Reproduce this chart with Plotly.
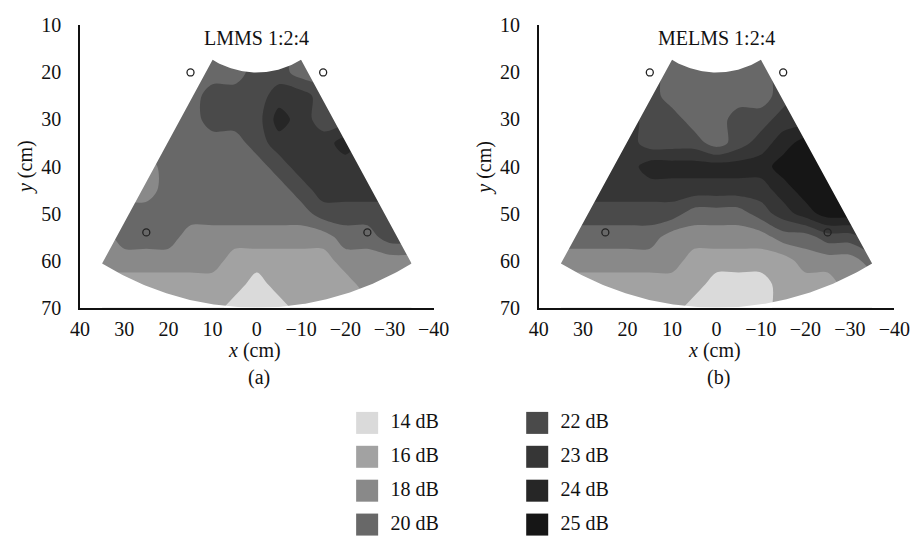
import math
import plotly.graph_objects as go

# ---------------- data ----------------
LEVELS = [14, 16, 18, 20, 22, 23, 24, 25]
GRAYS = ["#dadada", "#a2a2a2", "#898989", "#686868", "#4a4a4a", "#363636", "#262626", "#161616"]
LEGEND_LABELS = [f"{v} dB" for v in LEVELS]

X_CM = [35, 30, 25, 20, 15, 10, 5, 0, -5, -10, -15, -20, -25, -30, -35]
Y_CM = [15, 20, 25, 30, 35, 40, 45, 50, 55, 60, 65, 70]

LMMS_DB = [
    [20, 20, 20, 20, 20, 20, 20, 22, 22, 20, 20, 20, 20, 20, 20],
    [20, 20, 20, 20, 20, 20, 20, 22, 22, 20, 20, 20, 20, 20, 20],
    [20, 20, 20, 20, 20, 22, 22, 22, 23, 23, 22, 22, 22, 22, 22],
    [20, 20, 20, 20, 20, 22, 22, 22, 24, 23, 22, 22, 22, 22, 22],
    [20, 20, 20, 20, 20, 20, 20, 22, 23, 23, 23, 24, 23, 23, 23],
    [18, 18, 18, 20, 20, 20, 20, 20, 22, 23, 23, 23, 23, 23, 23],
    [18, 18, 18, 20, 20, 20, 20, 20, 20, 22, 23, 23, 23, 23, 23],
    [20, 20, 20, 20, 20, 20, 20, 20, 20, 20, 22, 22, 22, 22, 22],
    [18, 20, 20, 20, 18, 18, 18, 18, 18, 18, 18, 20, 20, 22, 22],
    [18, 18, 18, 18, 18, 18, 16, 16, 16, 16, 16, 18, 18, 18, 18],
    [16, 16, 16, 16, 16, 16, 16, 14, 16, 16, 16, 16, 18, 18, 18],
    [16, 16, 16, 16, 16, 16, 14, 14, 14, 16, 16, 16, 16, 16, 16],
]

MELMS_DB = [
    [22, 22, 22, 22, 22, 20, 20, 20, 20, 20, 22, 22, 22, 22, 22],
    [22, 22, 22, 22, 22, 20, 20, 20, 20, 20, 22, 22, 22, 22, 22],
    [23, 23, 23, 22, 22, 20, 20, 20, 20, 20, 22, 23, 23, 23, 23],
    [23, 23, 23, 23, 22, 22, 20, 20, 22, 22, 23, 23, 23, 23, 23],
    [23, 23, 23, 23, 22, 22, 22, 20, 22, 23, 24, 25, 25, 25, 25],
    [23, 23, 23, 23, 24, 24, 24, 24, 24, 24, 25, 25, 25, 25, 25],
    [23, 23, 23, 23, 23, 23, 23, 23, 23, 23, 24, 25, 25, 25, 25],
    [22, 22, 22, 22, 22, 22, 20, 20, 20, 22, 23, 24, 25, 25, 25],
    [20, 20, 20, 20, 20, 18, 18, 18, 18, 18, 20, 20, 22, 22, 23],
    [18, 18, 18, 18, 18, 18, 16, 16, 16, 16, 16, 18, 18, 18, 20],
    [16, 16, 16, 16, 16, 16, 16, 14, 14, 14, 16, 16, 16, 18, 18],
    [16, 16, 16, 16, 16, 16, 14, 14, 14, 14, 16, 16, 16, 16, 16],
]

SPEAKERS_X = [15, -15, 25, -25]
SPEAKERS_Y = [20, 20, 54, 54]

TITLES = ["LMMS 1:2:4", "MELMS 1:2:4"]
SUBLABELS = ["(a)", "(b)"]
X_TICKS = [40, 30, 20, 10, 0, -10, -20, -30, -40]
Y_TICKS = [10, 20, 30, 40, 50, 60, 70]

# ---------------- geometry / style ----------------
W, H = 922, 552
FONT = "Liberation Serif"
FS = 20
R_IN, R_OUT, HALF_ANG = 20.0, 70.0, 30.0  # fan sector (apex at origin)

PANELS = [
    dict(x0=72, x1=436, y0=15, y1=309),
    dict(x0=544, x1=910, y0=15, y1=309),
]


def px2paper_x(px):
    return px / W


def px2paper_y(py):
    return 1 - py / H


def arc(r, a0, a1, n=60):
    pts = []
    for i in range(n + 1):
        a = math.radians(a0 + (a1 - a0) * i / n)
        pts.append((r * math.sin(a), r * math.cos(a)))
    return pts


def mask_polygon():
    # everything in the axes box except the fan sector, as one polygon
    pts = [(45, 5), (-45, 5), (-45, 75), (0, 75), (0, R_OUT)]
    pts += arc(R_OUT, 0, -HALF_ANG)[1:]
    pts += arc(R_IN, -HALF_ANG, HALF_ANG)
    pts += arc(R_OUT, HALF_ANG, 0)
    pts += [(0, 75), (45, 75), (45, 5)]
    return [p[0] for p in pts], [p[1] for p in pts]


fig = go.Figure()
x_asc = X_CM[::-1]
colorscale = [[k / (len(GRAYS) - 1), c] for k, c in enumerate(GRAYS)]
mx, my = mask_polygon()

for i, data in enumerate([LMMS_DB, MELMS_DB]):
    sfx = "" if i == 0 else "2"
    z_idx = [[LEVELS.index(v) for v in row[::-1]] for row in data]
    fig.add_trace(go.Contour(
        x=x_asc, y=Y_CM, z=z_idx,
        xaxis="x" + sfx, yaxis="y" + sfx,
        colorscale=colorscale, showscale=False,
        autocontour=False,
        contours=dict(start=0.5, end=len(LEVELS) - 1.5, size=1,
                      coloring="fill", showlines=False),
        line=dict(width=0, smoothing=0.9),
        hoverinfo="skip",
    ))
    fig.add_trace(go.Scatter(
        x=mx, y=my, xaxis="x" + sfx, yaxis="y" + sfx,
        mode="lines", fill="toself", fillcolor="white",
        line=dict(width=0, color="white"), hoverinfo="skip",
        showlegend=False,
    ))
    fig.add_trace(go.Scatter(
        x=SPEAKERS_X, y=SPEAKERS_Y, xaxis="x" + sfx, yaxis="y" + sfx,
        mode="markers",
        marker=dict(symbol="circle-open", size=7, color="#222",
                    line=dict(width=1.3, color="#222")),
        hoverinfo="skip", showlegend=False,
    ))

# legend drawn as data-driven squares on an overlay axis in pixel units
leg_x, leg_y, txt_x = [], [], []
for k in range(len(LEVELS)):
    col, row = k // 4, k % 4
    cx = 367.5 + col * 175
    cy = 429 + row * 35.3
    leg_x.append(cx)
    leg_y.append(cy)
    txt_x.append(cx + 24)

fig.add_trace(go.Scatter(
    x=leg_x, y=leg_y, xaxis="x3", yaxis="y3", mode="markers",
    marker=dict(symbol="square", size=22, color=GRAYS, line=dict(width=0)),
    hoverinfo="skip", showlegend=False,
))
fig.add_trace(go.Scatter(
    x=txt_x, y=leg_y, xaxis="x3", yaxis="y3", mode="text",
    text=LEGEND_LABELS, textposition="middle right",
    textfont=dict(family=FONT, size=FS, color="#111"),
    hoverinfo="skip", showlegend=False,
))

axis_common = dict(showline=True, linecolor="#111", linewidth=1.5,
                   showgrid=False, zeroline=False, ticks="",
                   tickfont=dict(family=FONT, size=FS, color="#111"))
layout = dict(
    width=W, height=H, margin=dict(l=0, r=0, t=0, b=0),
    paper_bgcolor="white", plot_bgcolor="rgba(0,0,0,0)",
    showlegend=False,
    font=dict(family=FONT, size=FS, color="#111"),
)
annotations = []
for i, p in enumerate(PANELS):
    sfx = "" if i == 0 else "2"
    xd = [px2paper_x(p["x0"]), px2paper_x(p["x1"])]
    yd = [px2paper_y(p["y1"]), px2paper_y(p["y0"])]
    layout["xaxis" + sfx] = dict(axis_common, domain=xd, range=[40, -40],
                                 tickvals=X_TICKS, anchor="y" + sfx,
                                 ticklabelstandoff=3)
    layout["yaxis" + sfx] = dict(axis_common, domain=yd, range=[70, 10],
                                 tickvals=Y_TICKS, anchor="x" + sfx,
                                 ticklabelstandoff=13)
    cxp = (p["x0"] + p["x1"]) / 2
    annotations.append(dict(text=TITLES[i], x=px2paper_x(cxp), y=px2paper_y(28),
                            xref="paper", yref="paper", showarrow=False,
                            xanchor="center", yanchor="middle",
                            font=dict(family=FONT, size=FS, color="#111")))
    annotations.append(dict(text="<i>x</i> (cm)", x=px2paper_x(cxp - 2), y=px2paper_y(354),
                            xref="paper", yref="paper", showarrow=False,
                            xanchor="center", yanchor="middle",
                            font=dict(family=FONT, size=FS, color="#111")))
    annotations.append(dict(text=SUBLABELS[i], x=px2paper_x(cxp + 2), y=px2paper_y(382),
                            xref="paper", yref="paper", showarrow=False,
                            xanchor="center", yanchor="middle",
                            font=dict(family=FONT, size=FS, color="#111")))
    annotations.append(dict(text="<i>y</i> (cm)", x=px2paper_x(p["x0"] - 56), y=px2paper_y(163),
                            xref="paper", yref="paper", showarrow=False,
                            xanchor="center", yanchor="middle", textangle=-90,
                            font=dict(family=FONT, size=FS, color="#111")))

layout["xaxis3"] = dict(domain=[0, 1], range=[0, W], visible=False, anchor="y3", fixedrange=True)
layout["yaxis3"] = dict(domain=[0, 1], range=[H, 0], visible=False, anchor="x3", fixedrange=True)
layout["annotations"] = annotations
fig.update_layout(**layout)

fig.write_html("out.html")
